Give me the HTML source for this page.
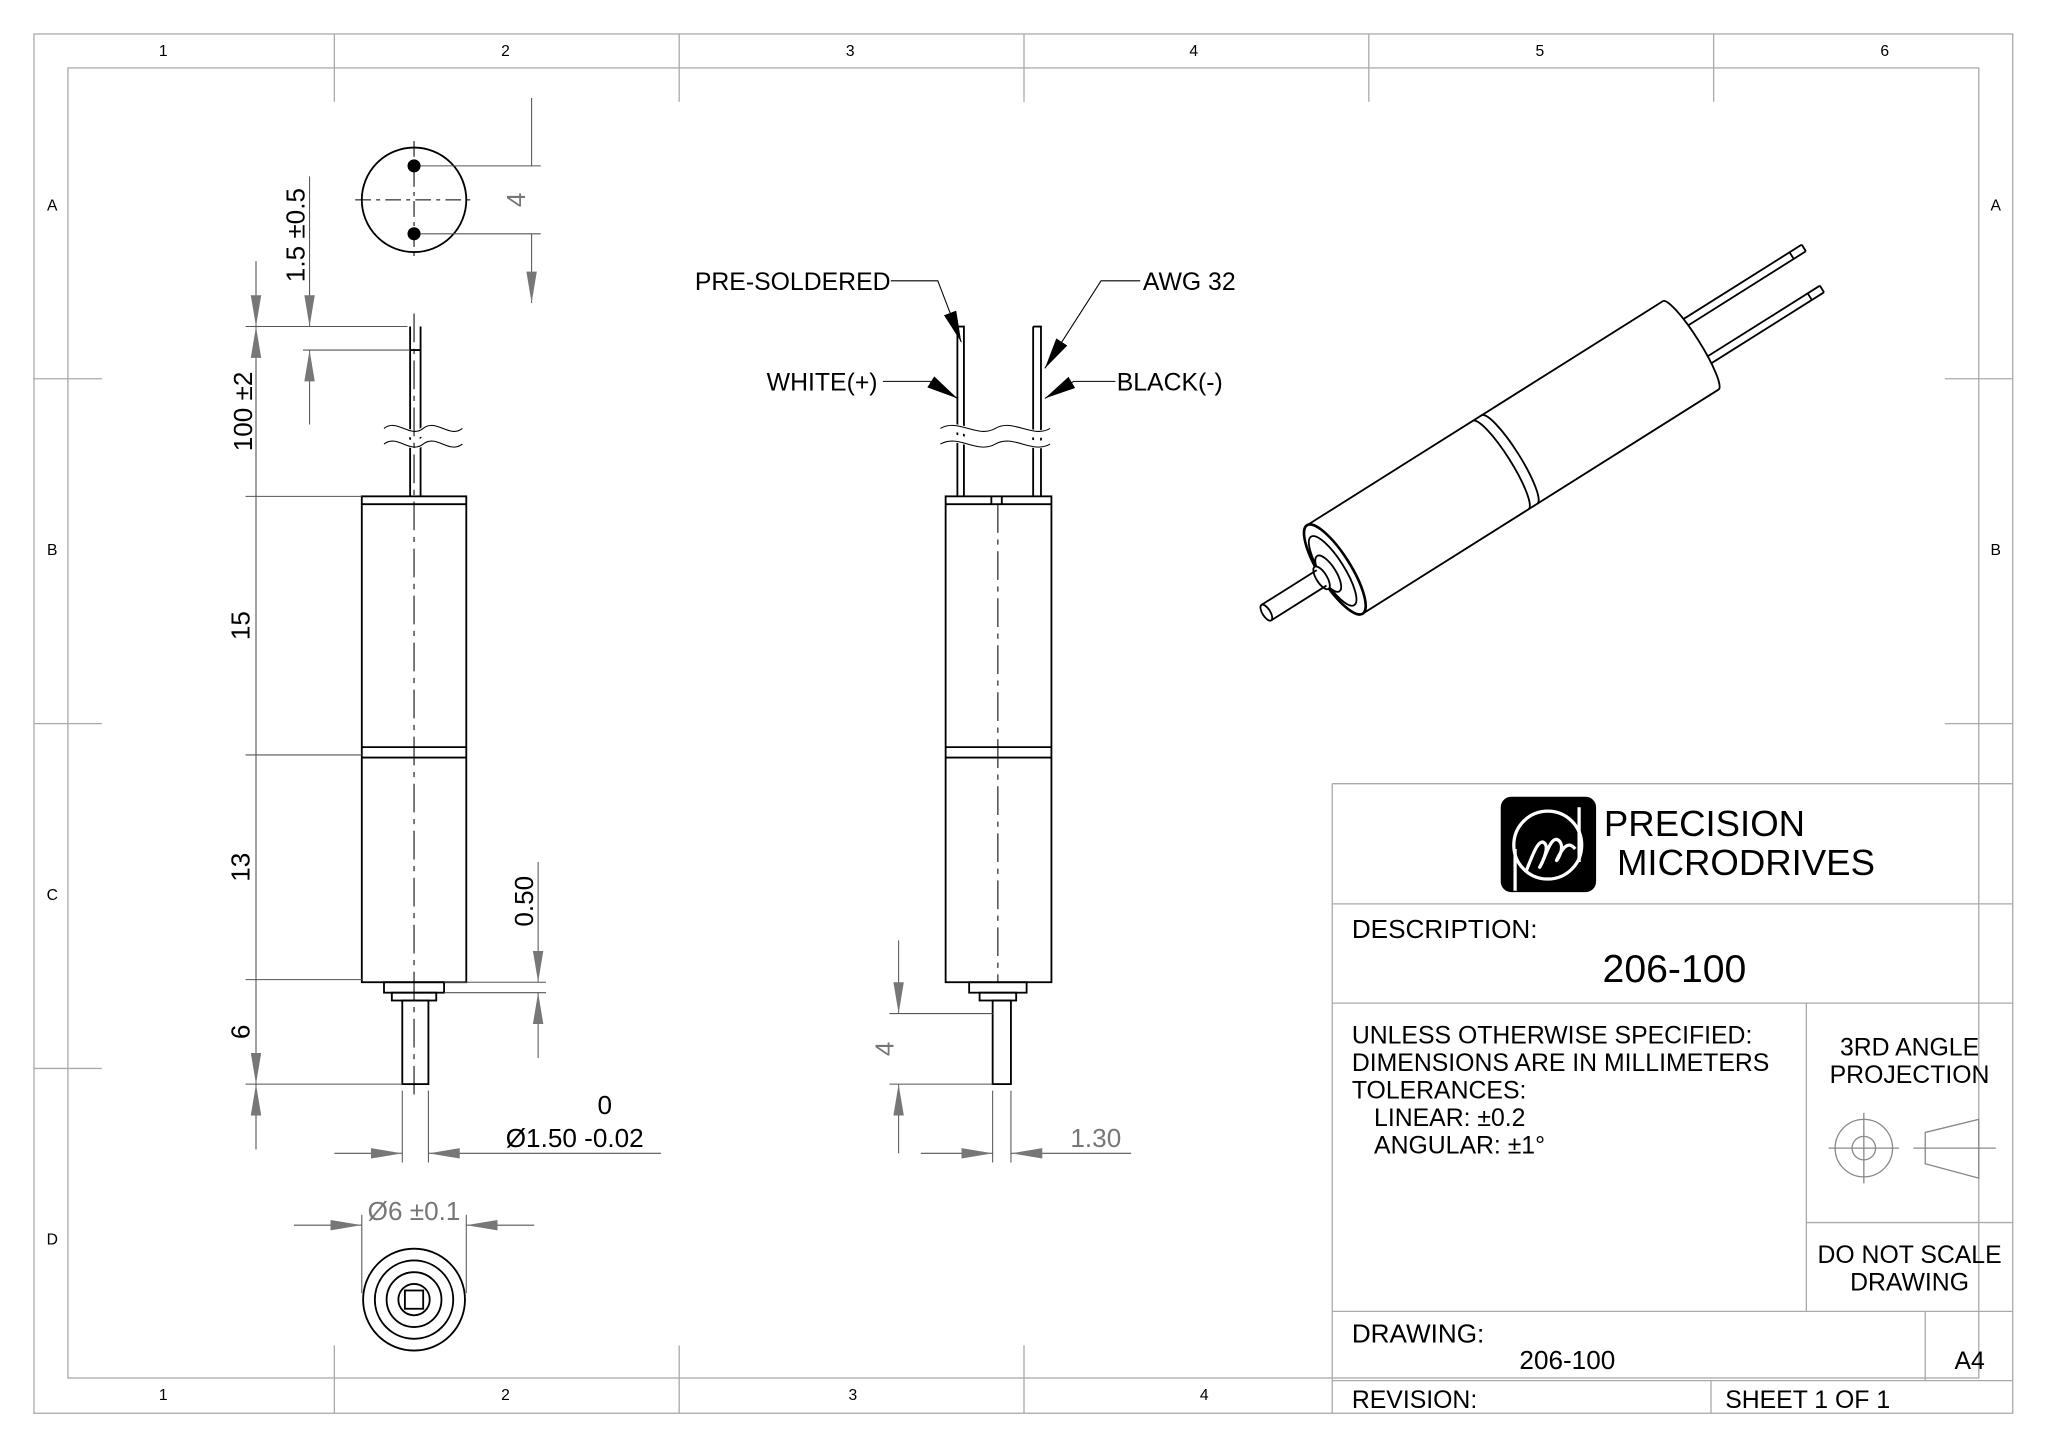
<!DOCTYPE html>
<html><head><meta charset="utf-8"><style>
html,body{margin:0;padding:0;background:#fff}
svg{display:block}
text{font-family:"Liberation Sans",sans-serif;fill:#000}
.g{stroke:#aaa;stroke-width:1;fill:none}
.k{stroke:#000;stroke-width:1.4;fill:none}
.t{stroke:#000;stroke-width:0.8;fill:none}
.d{stroke:#555;stroke-width:0.8;fill:none}
.dim{fill:#777;font-size:20px}
</style></head><body>
<svg width="2048" height="1448" viewBox="0 0 1568 1108.6" preserveAspectRatio="none">
<defs>
<marker id="a" markerWidth="24" markerHeight="10" refX="24" refY="5" orient="auto-start-reverse" markerUnits="userSpaceOnUse"><path d="M0,1 L24,5 L0,9z" fill="#777"/></marker>
<marker id="b" markerWidth="24" markerHeight="12" refX="24" refY="6" orient="auto-start-reverse" markerUnits="userSpaceOnUse"><path d="M0,1 L24,6 L0,11z" fill="#000"/></marker>
</defs>
<rect x="26" y="26" width="1515" height="1056" class="g"/>
<rect x="52" y="52" width="1463" height="1003" class="g"/>
<g class="g">
<path d="M256,26V78 M520,26V78 M784,26V78 M1048,26V78 M1312,26V78"/>
<path d="M256,1030V1082 M520,1030V1082 M784,1030V1082"/>
<path d="M26,290H78 M26,554H78 M26,818H78 M1489,290H1541 M1489,554H1541"/>
</g>
<g font-size="12" text-anchor="middle">
<text x="125" y="43">1</text><text x="387" y="43">2</text><text x="651" y="43">3</text><text x="914" y="43">4</text><text x="1179" y="43">5</text><text x="1443" y="43">6</text>
<text x="125" y="1072">1</text><text x="387" y="1072">2</text><text x="653" y="1072">3</text><text x="922" y="1072">4</text>
<text x="40" y="161">A</text><text x="40" y="425">B</text><text x="40" y="689">C</text><text x="40" y="953">D</text>
<text x="1528" y="161">A</text><text x="1528" y="425">B</text>
</g>
<g class="g">
<path d="M1020,600H1541 M1020,600V1082 M1020,692H1541 M1020,768H1541 M1383,768V1004 M1383,936H1541 M1020,1004H1541 M1020,1057H1541 M1474,1004V1057 M1310,1057V1082"/>
</g>
<rect x="1149" y="610" width="73" height="73" rx="8" fill="#000"/>
<g stroke="#fff" stroke-width="2.5" fill="none">
<circle cx="1185" cy="647" r="26"/><path d="M1209,618V660 M1160,650V682"/>
<path d="M1168,668c5,-12 10,-28 15,-22c4,6 -8,24 -3,16c4,-8 8,-24 14,-18c5,6 -4,18 -2,14c3,-6 8,-16 14,-8"/>
</g>
<text x="1228" y="640" font-size="28">PRECISION</text>
<text x="1238" y="670" font-size="28">MICRODRIVES</text>
<text x="1035" y="718" font-size="20">DESCRIPTION:</text>
<text x="1282" y="752" font-size="30" text-anchor="middle">206-100</text>
<g font-size="19">
<text x="1035" y="799">UNLESS OTHERWISE SPECIFIED:</text>
<text x="1035" y="820">DIMENSIONS ARE IN MILLIMETERS</text>
<text x="1035" y="841">TOLERANCES:</text>
<text x="1052" y="862">LINEAR: ±0.2</text>
<text x="1052" y="883">ANGULAR: ±1°</text>
</g>
<g font-size="19" text-anchor="middle">
<text x="1462" y="808">3RD ANGLE</text><text x="1462" y="829">PROJECTION</text>
<text x="1462" y="967">DO NOT SCALE</text><text x="1462" y="988">DRAWING</text>
</g>
<g stroke="#888" stroke-width="1" fill="none">
<circle cx="1427" cy="879" r="22"/><circle cx="1427" cy="879" r="9"/>
<path d="M1400,879H1454 M1427,852V906 M1474,867L1515,857V902L1474,891z M1465,879H1528"/>
</g>
<text x="1035" y="1028" font-size="20">DRAWING:</text>
<text x="1200" y="1048" font-size="20" text-anchor="middle">206-100</text>
<text x="1508" y="1048" font-size="19" text-anchor="middle">A4</text>
<text x="1035" y="1078" font-size="19">REVISION:</text>
<text x="1384" y="1078" font-size="19" text-anchor="middle">SHEET 1 OF 1</text>

<circle cx="317" cy="153" r="40" class="k"/>
<path d="M272,153H362 M317,108V198" class="t" stroke-dasharray="12,4,3,4"/>
<circle cx="317" cy="127" r="5" fill="#000"/><circle cx="317" cy="179" r="5" fill="#000"/>
<path d="M322,127H414 M322,179H414" class="d"/>
<path d="M407,75V127 M407,179V232" class="d" marker-end="url(#a)" />
<text class="dim" transform="translate(402,153) rotate(-90)" text-anchor="middle">4</text>

<g class="k">
<rect x="277" y="380" width="80" height="372"/>
<path d="M277,386H357 M277,572H357 M277,580H357"/>
<rect x="294" y="752" width="46" height="8"/>
<rect x="300" y="760" width="34" height="6"/>
<rect x="308" y="766" width="20" height="64"/>
<path d="M314,250V380 M322,250V380 M314,268H322"/>
</g>
<path d="M294,330c10,-8 20,8 30,0s20,8 30,0 M294,338c10,-8 20,8 30,0s20,8 30,0" stroke="#fff" stroke-width="6" fill="none"/>
<path d="M294,328c10,-8 20,8 30,0s20,8 30,0 M294,340c10,-8 20,8 30,0s20,8 30,0" class="t"/>
<path d="M317,240V840" class="t" stroke-dasharray="22,5,4,5"/>
<g class="d">
<path d="M188,250H312 M188,380H277 M188,578H277 M188,750H277 M188,830H308"/>
<path d="M196,200V880"/>
<path d="M196,250V380 M196,380V578 M196,578V750 M196,750V830" marker-start="url(#a)" marker-end="url(#a)"/>
<path d="M196,250V200" marker-start="url(#a)" /><path d="M196,830V880" marker-start="url(#a)"/>
<path d="M232,268H314"/>
<path d="M237,135V250" marker-end="url(#a)"/><path d="M237,325V268" marker-end="url(#a)"/>
<path d="M340,752H418 M340,760H418"/>
<path d="M412,660V752" marker-end="url(#a)"/><path d="M412,810V760" marker-end="url(#a)"/>
<path d="M308,835V890 M328,835V890"/>
<path d="M256,883H308" marker-end="url(#a)"/><path d="M506,883H328" marker-end="url(#a)"/>
</g>
<g class="dim">
<text transform="translate(193,315) rotate(-90)" text-anchor="middle">100 ±2</text>
<text transform="translate(233,180) rotate(-90)" text-anchor="middle">1.5 ±0.5</text>
<text transform="translate(191,479) rotate(-90)" text-anchor="middle">15</text>
<text transform="translate(191,664) rotate(-90)" text-anchor="middle">13</text>
<text transform="translate(191,790) rotate(-90)" text-anchor="middle">6</text>
<text transform="translate(408,690) rotate(-90)" text-anchor="middle">0.50</text>
<text x="463" y="853" text-anchor="middle">0</text>
<text x="440" y="878" text-anchor="middle">Ø1.50 -0.02</text>
</g>

<circle cx="317" cy="995" r="39" class="k" stroke-width="3.5"/>
<circle cx="317" cy="995" r="30" class="k" stroke-width="2"/>
<circle cx="317" cy="995" r="21" class="k" stroke-width="2.5"/>
<circle cx="317" cy="995" r="12" class="k"/>
<rect x="310" y="988" width="14" height="14" class="k"/>
<g class="d">
<path d="M277,930V990 M357,930V990"/>
<path d="M225,938H277" marker-end="url(#a)"/><path d="M409,938H357" marker-end="url(#a)"/>
</g>
<text class="dim" x="317" y="934" text-anchor="middle">Ø6 ±0.1</text>

<g class="k">
<rect x="724" y="380" width="81" height="372"/>
<path d="M724,386H805 M724,572H805 M724,580H805"/>
<rect x="742" y="752" width="44" height="8"/>
<rect x="750" y="760" width="28" height="6"/>
<rect x="760" y="766" width="14" height="64"/>
<path d="M733,250V380 M738,268V380 M791,250V380 M797,268V380 M733,250H738V268 M791,250H797V268 M759,380V386 M767,380V386"/>
</g>
<path d="M720,330c14,-8 28,8 42,0s28,8 42,0 M720,338c14,-8 28,8 42,0s28,8 42,0" stroke="#fff" stroke-width="6" fill="none"/>
<path d="M720,328c14,-8 28,8 42,0s28,8 42,0 M720,340c14,-8 28,8 42,0s28,8 42,0" class="t"/>
<path d="M764,386V752" class="t" stroke-dasharray="22,5,4,5"/>
<g class="t">
<path d="M682,215H718L736,262" marker-end="url(#b)"/>
<path d="M873,215H843L800,282" marker-end="url(#b)"/>
<path d="M676,292H712L733,305" marker-end="url(#b)"/>
<path d="M854,292H822L800,305" marker-end="url(#b)"/>
</g>
<g font-size="19">
<text x="532" y="222">PRE-SOLDERED</text>
<text x="875" y="222">AWG 32</text>
<text x="587" y="299">WHITE(+)</text>
<text x="855" y="299">BLACK(-)</text>
</g>
<g class="d">
<path d="M681,776H760 M681,830H760"/>
<path d="M688,720V776" marker-end="url(#a)"/><path d="M688,883V830" marker-end="url(#a)"/>
<path d="M760,835V890 M774,835V890"/>
<path d="M705,883H760" marker-end="url(#a)"/><path d="M866,883H774" marker-end="url(#a)"/>
</g>
<text class="dim" transform="translate(684,803) rotate(-90)" text-anchor="middle">4</text>
<text class="dim" x="839" y="878" text-anchor="middle">1.30</text>

<g transform="translate(1022,436) rotate(-32.2)" class="k" stroke-width="1.3">
<path d="M0,-40H322 M0,40H322"/>
<path d="M322,-40A7,40 0 0 1 322,40"/>
<path d="M150,-40A8,40 0 0 1 150,40 M158,-40A8,40 0 0 1 158,40"/>
<ellipse cx="0" cy="0" rx="12" ry="40" fill="#fff" stroke-width="2"/>
<ellipse cx="-2" cy="0" rx="9" ry="31"/>
<ellipse cx="-6" cy="0" rx="6" ry="16" fill="#fff"/>
<ellipse cx="-12" cy="0" rx="4" ry="10" fill="#fff"/>
<path d="M-12,-7H-62 M-12,7H-62" />
<ellipse cx="-62" cy="0" rx="3" ry="7" fill="#fff"/>
<path d="M328,-20L435,-20 M328,-14L435,-14 M328,14L430,14 M328,20L430,20"/>
<path d="M424,-20V-14 M419,14V20 M435,-20V-14 M430,14V20"/>
</g>
</svg>
</body></html>
